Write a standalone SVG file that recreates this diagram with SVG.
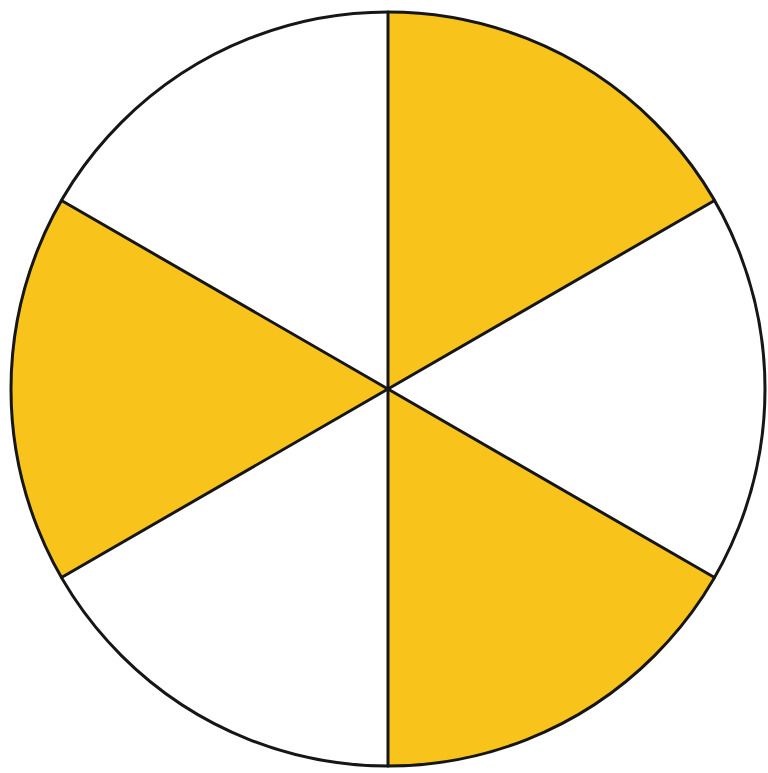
<svg xmlns="http://www.w3.org/2000/svg" width="768" height="773" viewBox="0 0 768 773">
<style>
.y{fill:#F8C41C;stroke:none}
.ln{stroke:#161616;stroke-width:3;fill:none;stroke-linecap:round}
</style>
<rect width="768" height="773" fill="#ffffff"/>
<g id="sectors">
<path id="s-top-right" class="y" d="M388,389 L388,12 A377,377 0 0 1 714.5,200.5 Z"/>
<path id="s-left" class="y" d="M388,389 L61.5,200.5 A377,377 0 0 0 61.5,577.5 Z"/>
<path id="s-bottom-right" class="y" d="M388,389 L714.5,577.5 A377,377 0 0 1 388,766 Z"/>
</g>
<g id="connectors">
<line class="ln" x1="388" y1="12" x2="388" y2="766"/>
<line class="ln" x1="61.5" y1="200.5" x2="714.5" y2="577.5"/>
<line class="ln" x1="714.5" y1="200.5" x2="61.5" y2="577.5"/>
<circle class="ln" cx="388" cy="389" r="377"/>
</g>
</svg>
